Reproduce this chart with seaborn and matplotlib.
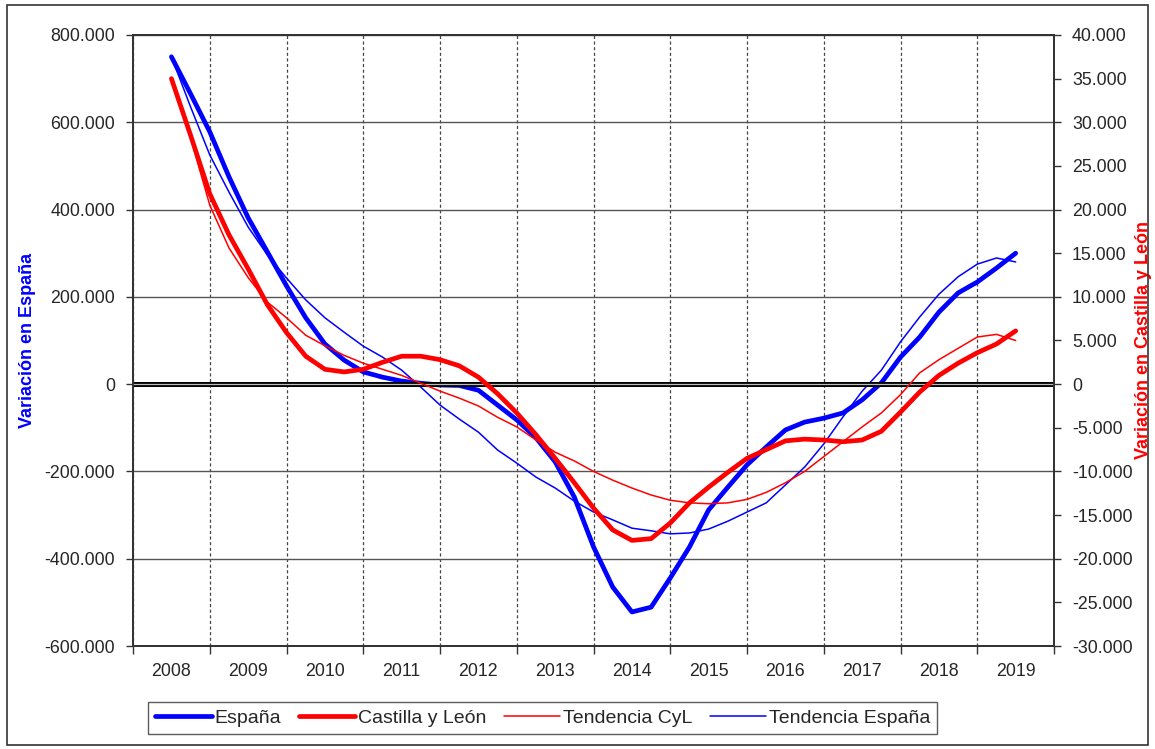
import numpy as np
import pandas as pd
import matplotlib
matplotlib.use("Agg")
from matplotlib import pyplot as plt
from matplotlib.ticker import FuncFormatter, MultipleLocator, FixedLocator, NullFormatter
from matplotlib.patches import Rectangle
import matplotlib.patheffects as pe
import seaborn as sns

years = [str(y) for y in range(2008, 2020)]

# one point per quarter, position in years counted from the start of 2008
t = np.arange(0.5, 11.51, 0.25)

# Variación en España (miles)
espana = [750, 665, 578, 475, 381, 303, 225, 152, 92, 55, 28, 16, 7, 2, -2,
          -3, -14, -48, -82, -123, -178, -259, -373, -465, -522, -511, -444,
          -373, -288, -236, -185, -144, -105, -87, -78, -66, -36, 3, 62, 108,
          165, 209, 234, 266, 300]
tend_espana = [750, 635, 525, 440, 360, 296, 243, 193, 152, 119, 87, 62, 32,
               -7, -48, -80, -110, -151, -181, -213, -238, -268, -293, -311,
               -330, -336, -343, -341, -332, -314, -293, -272, -231, -190,
               -137, -75, -16, 32, 97, 154, 206, 246, 275, 289, 280]

# Variación en Castilla y León (miles)
cyl = [35.0, 28.5, 21.8, 17.1, 13.2, 9.1, 5.9, 3.2, 1.7, 1.4, 1.7, 2.5, 3.2,
       3.2, 2.8, 2.1, 0.8, -1.1, -3.3, -5.8, -8.5, -11.3, -14.2, -16.7, -17.9,
       -17.7, -15.9, -13.6, -11.8, -10.1, -8.5, -7.5, -6.5, -6.3, -6.4, -6.6,
       -6.4, -5.4, -3.2, -0.9, 1.0, 2.4, 3.6, 4.6, 6.1]
tend_cyl = [35.0, 28.2, 20.5, 15.6, 12.2, 9.4, 7.6, 5.6, 4.4, 3.3, 2.4, 1.7,
            1.0, 0.1, -0.8, -1.6, -2.5, -3.8, -4.9, -6.4, -7.8, -8.8, -10.0,
            -11.0, -11.9, -12.7, -13.3, -13.6, -13.7, -13.6, -13.2, -12.4,
            -11.3, -10.0, -8.3, -6.6, -4.9, -3.3, -1.2, 1.3, 2.8, 4.1, 5.4,
            5.7, 5.0]

df = pd.DataFrame({
    "t": t,
    "espana": np.array(espana) * 1000,
    "tend_espana": np.array(tend_espana) * 1000,
    "cyl": np.array(cyl) * 1000,
    "tend_cyl": np.array(tend_cyl) * 1000,
})

sns.set_style("white")
plt.rcParams["font.family"] = ["Liberation Sans", "DejaVu Sans"]

BLUE = "#0000FF"
RED = "#FF0000"

fig = plt.figure(figsize=(11.55, 7.49), dpi=100)
ax = fig.add_axes([0.1152, 0.1375, 0.7974, 0.8158])
ax2 = ax.twinx()

line_kw = dict(solid_joinstyle="round", solid_capstyle="round", legend=False)
sns.lineplot(data=df, x="t", y="tend_espana", ax=ax, color=BLUE, lw=1.1,
             label="Tendencia España", **line_kw)
sns.lineplot(data=df, x="t", y="espana", ax=ax, color=BLUE, lw=3.4,
             label="España", **line_kw)
sns.lineplot(data=df, x="t", y="tend_cyl", ax=ax2, color=RED, lw=1.1,
             label="Tendencia CyL", **line_kw)
sns.lineplot(data=df, x="t", y="cyl", ax=ax2, color=RED, lw=3.4,
             label="Castilla y León", **line_kw)

# zero line (double black)
ax2.axhline(0, color="black", lw=3.6, zorder=1,
            path_effects=[pe.Stroke(linewidth=3.6, foreground="black"), pe.Normal()])
ax2.axhline(0, color="#bbbbbb", lw=0.9, zorder=1.1)

ax.set_xlim(0, 12)
ax.set_ylim(-600000, 800000)
ax2.set_ylim(-30000, 40000)

fmt = FuncFormatter(lambda v, p: f"{int(round(v)):,}".replace(",", "."))
ax.yaxis.set_major_locator(MultipleLocator(200000))
ax2.yaxis.set_major_locator(MultipleLocator(5000))
ax.yaxis.set_major_formatter(fmt)
ax2.yaxis.set_major_formatter(fmt)

ax.xaxis.set_major_locator(FixedLocator(range(0, 13)))
ax.xaxis.set_major_formatter(NullFormatter())
ax.xaxis.set_minor_locator(FixedLocator([i + 0.5 for i in range(12)]))
ax.xaxis.set_minor_formatter(FuncFormatter(lambda v, p: years[int(v)]))

ax.tick_params(axis="x", which="major", length=6, width=1, color="#333333",
               direction="out", bottom=True)
ax.tick_params(axis="x", which="minor", length=0, labelsize=12.8, pad=12)
ax.tick_params(axis="y", length=5, width=1, color="#333333", labelsize=12.8,
               left=True, pad=8)
ax2.tick_params(axis="y", length=5, width=1, color="#333333", labelsize=12.8,
                right=True, pad=8)

ax.grid(False)
ax2.grid(False)
ax.yaxis.grid(True, color="#555555", lw=1.0)
ax.xaxis.grid(True, which="major", color="#444444", lw=0.9, ls=(0, (2.5, 2)))

for a in (ax, ax2):
    for s in a.spines.values():
        s.set_color("#333333")
        s.set_linewidth(1.3)

ax.set_xlabel("")
ax.set_ylabel("Variación en España", color=BLUE, fontsize=13, fontweight="bold")
ax2.set_ylabel("Variación en Castilla y León", color=RED, fontsize=13,
               fontweight="bold", rotation=90)
ax.yaxis.set_label_coords(-0.105, 0.5)
ax2.yaxis.set_label_coords(1.088, 0.5)

h1, l1 = ax.get_legend_handles_labels()
h2, l2 = ax2.get_legend_handles_labels()
hd = dict(zip(l1 + l2, h1 + h2))
order = ["España", "Castilla y León", "Tendencia CyL", "Tendencia España"]
leg = fig.legend([hd[k] for k in order], order, loc="center",
                 bbox_to_anchor=(0.470, 0.0414), ncol=4, fontsize=14,
                 frameon=True, fancybox=False, edgecolor="#333333",
                 handlelength=2.9, handletextpad=0.15, columnspacing=0.9,
                 borderpad=0.35)
leg.get_frame().set_linewidth(1.0)

fig.patches.append(Rectangle((0.006, 0.006), 0.988, 0.987, transform=fig.transFigure,
                             fill=False, edgecolor="#333333", lw=1.2))

fig.savefig("out.png", dpi=100)
